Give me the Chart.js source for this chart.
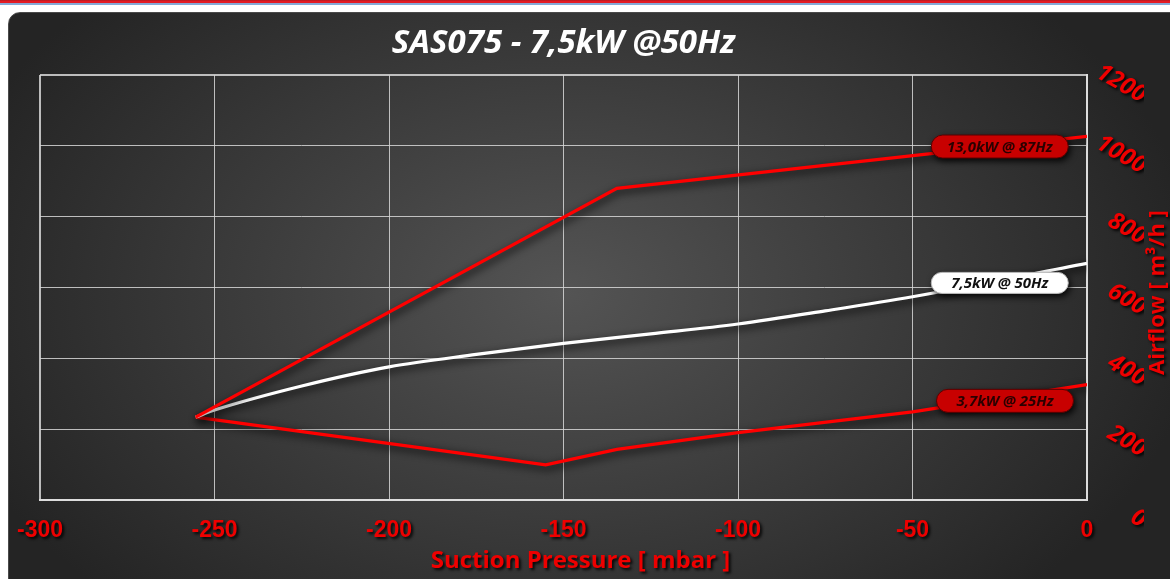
<!DOCTYPE html>
<html><head><meta charset="utf-8">
<script src="https://cdn.jsdelivr.net/npm/chart.js@4.4.1/dist/chart.umd.min.js"></script>
<style>
html,body{margin:0;padding:0;width:1170px;height:579px;overflow:hidden;background:#fff;}
#stripe{position:absolute;left:0;top:0;width:1170px;height:5px;background:linear-gradient(#a01a1f 0,#e31b23 1px,#e31b23 3px,#86a9d6 3px,#86a9d6 5px);}
#panel{position:absolute;left:8px;top:12px;width:1190px;height:610px;border-radius:12px;box-sizing:border-box;border:1px solid #4a4a4a;
 background:radial-gradient(ellipse 640px 430px at 555px 280px,#545454 0%,#3c3c3c 50%,#242424 100%);}
canvas{position:absolute;left:0;top:0;}
</style></head><body>
<div id="stripe"></div><div id="panel"></div>
<canvas id="c" width="1170" height="579"></canvas>
<script>
// ---- data ----
const chartTitle = 'SAS075 - 7,5kW @50Hz';
const xTitle = 'Suction Pressure [ mbar ]';
const yTitle = 'Airflow [ m³/h ]';
const xTicks = [-300, -250, -200, -150, -100, -50, 0];
const yTicks = [0, 200, 400, 600, 800, 1000, 1200];
const seriesNames = ['13,0kW @ 87Hz', '7,5kW @ 50Hz', '3,7kW @ 25Hz'];
const hiX = [-255.4, -134.7, 0];
const hiY = [234, 880, 1027];
const midX = [-255.4, -250, -225, -200, -175, -150, -125, -100, -75, -50, 0];
const midY = [234, 254, 322, 376, 411, 442, 469, 497, 534, 574, 668];
const lowX = [-255.4, -155.1, -134.7, -100, -50, 0];
const lowY = [234, 99, 143, 190, 249, 326];
const tagX = [-25, -25, -23.5];
const tagY = [998, 613, 280];

const pts = (xs, ys) => xs.map((x, i) => ({x: x, y: ys[i]}));

// shadows on axis labels / custom orientation for right-hand title
const SP = Chart.Scale.prototype;
const origLabels = SP.drawLabels;
SP.drawLabels = function (ca) {
  const c = this.ctx; c.save();
  c.shadowColor = 'rgba(0,0,0,0.9)'; c.shadowBlur = 3; c.shadowOffsetX = 2; c.shadowOffsetY = 2;
  origLabels.call(this, ca); c.restore();
};
const origTitle = SP.drawTitle;
SP.drawTitle = function () {
  const c = this.ctx; const t = this.options.title;
  if (!t.display) return;
  c.save();
  c.shadowColor = 'rgba(0,0,0,0.9)'; c.shadowBlur = 3; c.shadowOffsetX = 2; c.shadowOffsetY = 2;
  if (this.axis === 'x') {
    c.translate(17, 0);
    origTitle.call(this);
  } else {
    const f = Chart.helpers.toFont(t.font);
    c.font = f.string; c.fillStyle = t.color; c.textAlign = 'center'; c.textBaseline = 'middle';
    c.translate(this.chart.width - 12, (this.top + this.bottom) / 2 + 5);
    c.rotate(-Math.PI / 2);
    c.fillText(t.text, 0, 0);
  }
  c.restore();
};

const lineColors = ['#ff0000', '#ffffff', '#ff0000'];
const tagFill = ['#c80000', '#ffffff', '#c80000'];

const tagPlugin = {
  id: 'tags',
  beforeDatasetsDraw(chart) {
    const c = chart.ctx; c.save();
    c.shadowColor = 'rgba(0,0,0,1)'; c.shadowBlur = 8; c.shadowOffsetX = 2; c.shadowOffsetY = 3;
  },
  afterDatasetsDraw(chart) {
    const c = chart.ctx; c.restore();
    const xs = chart.scales.x, ys = chart.scales.y;
    chart.data.datasets.forEach((ds, i) => {
      const cx = xs.getPixelForValue(tagX[i]), cy = ys.getPixelForValue(tagY[i]);
      const w = 137, h = i === 1 ? 21 : 23, r = h / 2;
      c.save();
      c.shadowColor = 'rgba(0,0,0,0.95)'; c.shadowBlur = 7; c.shadowOffsetX = 2; c.shadowOffsetY = 3;
      c.beginPath();
      c.roundRect(cx - w / 2, cy - h / 2, w, h, r);
      c.fillStyle = tagFill[i]; c.fill();
      c.shadowColor = 'transparent';
      c.lineWidth = 1; c.strokeStyle = i === 1 ? '#bbbbbb' : '#5a0000'; c.stroke();
      c.font = 'italic bold 15px "Open Sans"';
      c.fillStyle = i === 1 ? '#111111' : '#2a0000';
      c.textAlign = 'center'; c.textBaseline = 'middle';
      c.fillText(ds.label, cx, cy + 1);
      c.restore();
    });
  }
};

const gridCol = 'rgba(215,215,215,0.85)';

new Chart(document.getElementById('c'), {
  type: 'line',
  data: {
    datasets: [
      {label: seriesNames[0], data: pts(hiX, hiY), borderColor: lineColors[0], borderWidth: 3.2, pointRadius: 0, tension: 0, fill: false},
      {label: seriesNames[1], data: pts(midX, midY), borderColor: lineColors[1], borderWidth: 3.2, pointRadius: 0, cubicInterpolationMode: 'monotone', fill: false},
      {label: seriesNames[2], data: pts(lowX, lowY), borderColor: lineColors[2], borderWidth: 3.2, pointRadius: 0, tension: 0, fill: false}
    ]
  },
  options: {
    responsive: false, animation: false, devicePixelRatio: 1,
    layout: {padding: {left: 34, right: 26, top: 0, bottom: 0}},
    plugins: {
      legend: {display: false}, tooltip: {enabled: false},
      title: {display: true, text: chartTitle, color: '#ffffff', fullSize: false,
        font: {family: '"Open Sans"', size: 33, style: 'italic', weight: 'bold'},
        padding: {top: 24, bottom: 11.4}}
    },
    scales: {
      x: {
        type: 'linear', position: 'bottom', min: -300, max: 0,
        afterBuildTicks: s => { s.ticks = xTicks.map(v => ({value: v})); },
        afterFit: s => { s.height = 79; },
        grid: {color: gridCol, drawTicks: false, lineWidth: ctx => ctx.tick && ctx.tick.value === -300 ? 2 : 1},
        border: {display: true, color: '#dddddd', width: 2},
        ticks: {color: '#ee0000', padding: 17, maxRotation: 0, autoSkip: false,
          font: {family: '"Liberation Sans", Arial', size: 23, weight: 'bold'},
          callback: v => String(v)},
        title: {display: true, text: xTitle, color: '#ee0000', padding: {top: 0, bottom: 3},
          font: {family: '"Open Sans"', size: 24, weight: 'bold'}}
      },
      y: {
        type: 'linear', position: 'right', min: 0, max: 1200,
        afterBuildTicks: s => { s.ticks = yTicks.map(v => ({value: v})); },
        afterFit: s => { s.width = 57; },
        grid: {color: gridCol, drawTicks: false, lineWidth: ctx => ctx.tick && ctx.tick.value === 1200 ? 2 : 1},
        border: {display: true, color: '#dddddd', width: 2},
        ticks: {color: '#ee0000', minRotation: -30, maxRotation: -30, crossAlign: 'far', labelOffset: 22, autoSkip: false,
          font: {family: '"Open Sans"', size: 24, style: 'italic', weight: 'bold'},
          callback: v => String(v)},
        title: {display: true, text: yTitle, color: '#ee0000',
          font: {family: '"Open Sans"', size: 22, weight: 'bold'}}
      }
    }
  },
  plugins: [tagPlugin]
});
</script>
</body></html>
